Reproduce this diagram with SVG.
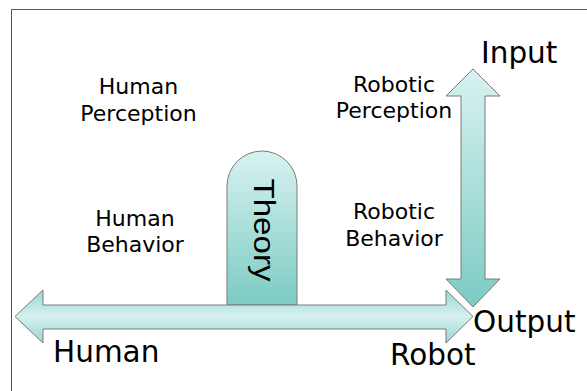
<svg xmlns="http://www.w3.org/2000/svg" width="587" height="391" viewBox="0 0 587 391">
<defs>
<linearGradient id="gv" x1="0" y1="0" x2="0" y2="1">
<stop offset="0" stop-color="#d8f2f0"/>
<stop offset="1" stop-color="#7ccbc3"/>
</linearGradient>
<linearGradient id="gh" x1="0" y1="0" x2="0" y2="1">
<stop offset="0" stop-color="#98d7d1"/>
<stop offset="0.5" stop-color="#d6f1ef"/>
<stop offset="1" stop-color="#98d7d1"/>
</linearGradient>
<style>
.sh{stroke:#7a7a7a;stroke-width:1}
.lbl{font-family:"DejaVu Sans",sans-serif;font-size:22px;fill:#000;text-anchor:middle}
.big{font-family:"DejaVu Sans",sans-serif;font-size:29.5px;fill:#000}
</style>
</defs>
<rect width="587" height="391" fill="#fff"/>
<g id="frame" fill="none" stroke="#555" stroke-width="1">
<path d="M11.5,391 V9.5 H587"/>
</g>
<g id="theory">
<path class="sh" fill="url(#gv)" d="M227,305 V186 A35,35 0 0 1 297,186 V305 Z"/>
<text transform="translate(254,230) rotate(90)" font-family="'Liberation Sans',Arial,sans-serif" font-size="29" text-anchor="middle" textLength="103" lengthAdjust="spacingAndGlyphs">Theory</text>
</g>
<g id="connectors">
<path id="axis-h" class="sh" fill="url(#gh)" d="M15,316.5 L43,290 V305 H446 V290 L473,316.5 L446,343 V329 H43 V343 Z"/>
<path id="axis-v" class="sh" fill="url(#gv)" d="M473,69 L500,96 H485 V279 H500 L473,307 L446,279 H461 V96 H446 Z"/>
</g>
<g id="human-perception">
<text class="lbl" x="138.5" y="94">Human</text>
<text class="lbl" x="138.5" y="121">Perception</text>
</g>
<g id="robotic-perception">
<text class="lbl" x="394" y="92">Robotic</text>
<text class="lbl" x="394" y="118">Perception</text>
</g>
<g id="human-behavior">
<text class="lbl" x="135" y="226">Human</text>
<text class="lbl" x="135" y="252">Behavior</text>
</g>
<g id="robotic-behavior">
<text class="lbl" x="394" y="219">Robotic</text>
<text class="lbl" x="394" y="246">Behavior</text>
</g>
<g id="input"><text class="big" x="481" y="63">Input</text></g>
<g id="output"><text class="big" x="473" y="332">Output</text></g>
<g id="human"><text class="big" x="53" y="362">Human</text></g>
<g id="robot"><text class="big" x="390" y="365">Robot</text></g>
</svg>
